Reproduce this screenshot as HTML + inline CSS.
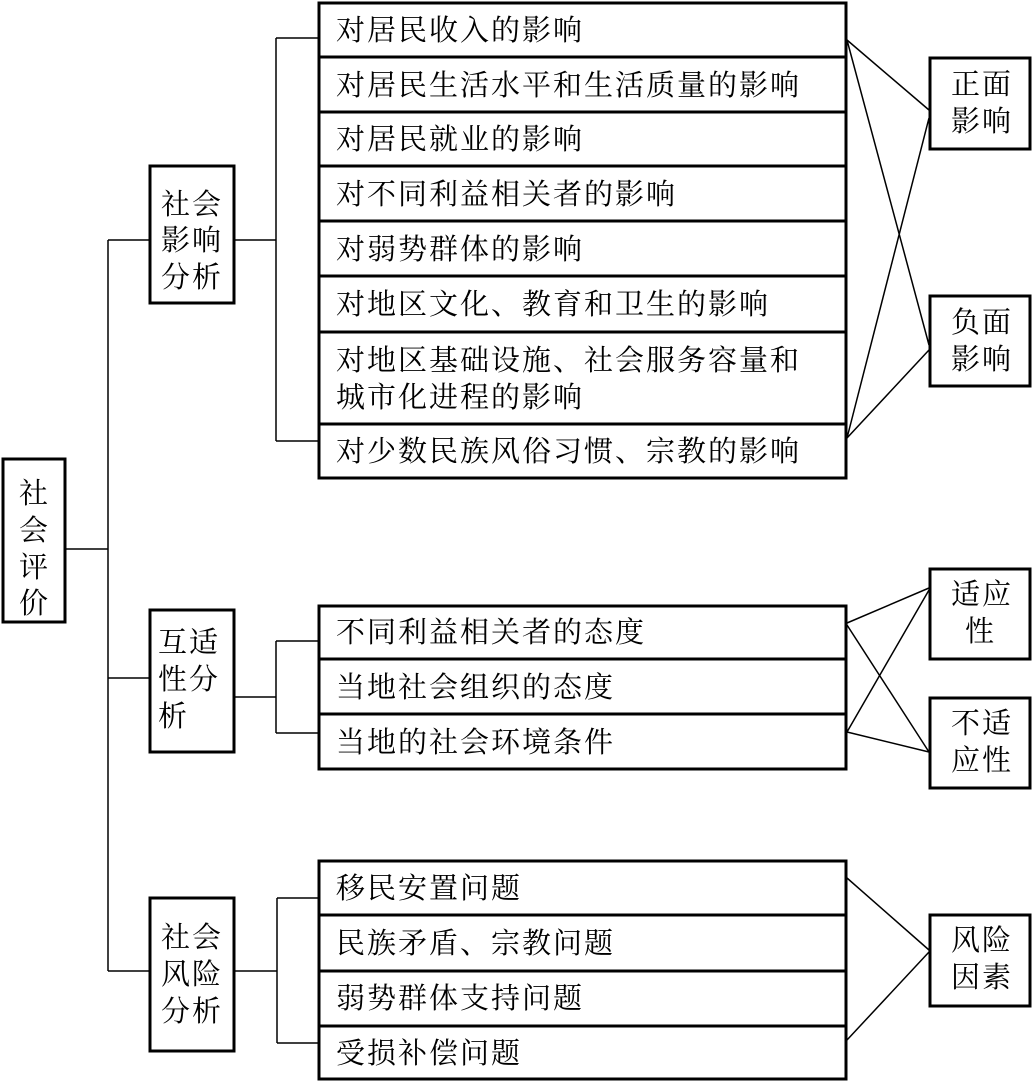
<!DOCTYPE html>
<html><head><meta charset="utf-8"><style>
html,body{margin:0;padding:0;background:#fff;}
svg{display:block;}
text{font-family:"Liberation Serif","Noto Serif CJK SC","Noto Sans CJK SC",serif;font-size:29px;fill:#000;letter-spacing:2px;}
</style></head><body>
<svg width="1033" height="1082" viewBox="0 0 1033 1082" xmlns="http://www.w3.org/2000/svg">
<g fill="none" stroke="#000" stroke-width="1.5">
<!-- main tree -->
<line x1="66" y1="549" x2="108" y2="549"/>
<line x1="108" y1="240" x2="108" y2="971"/>
<line x1="108" y1="240" x2="149" y2="240"/>
<line x1="108" y1="678" x2="149" y2="678"/>
<line x1="108" y1="971" x2="149" y2="971"/>
<!-- top bracket -->
<line x1="235" y1="240" x2="276" y2="240"/>
<line x1="276" y1="38" x2="276" y2="441"/>
<line x1="276" y1="38" x2="318" y2="38"/>
<line x1="276" y1="441" x2="318" y2="441"/>
<!-- middle bracket -->
<line x1="235" y1="697" x2="276" y2="697"/>
<line x1="276" y1="641" x2="276" y2="733"/>
<line x1="276" y1="641" x2="318" y2="641"/>
<line x1="276" y1="733" x2="318" y2="733"/>
<!-- bottom bracket -->
<line x1="235" y1="971" x2="277" y2="971"/>
<line x1="277" y1="898" x2="277" y2="1043"/>
<line x1="277" y1="898" x2="318" y2="898"/>
<line x1="277" y1="1043" x2="318" y2="1043"/>
<!-- cross lines top -->
<line x1="847" y1="40" x2="929" y2="110"/>
<line x1="847" y1="40" x2="929" y2="345"/>
<line x1="847" y1="438" x2="929" y2="118"/>
<line x1="847" y1="438" x2="929" y2="350"/>
<!-- middle -->
<line x1="847" y1="623" x2="929" y2="588"/>
<line x1="847" y1="625" x2="929" y2="752"/>
<line x1="847" y1="732" x2="929" y2="590"/>
<line x1="847" y1="732" x2="929" y2="752"/>
<!-- bottom -->
<line x1="847" y1="878" x2="929" y2="950"/>
<line x1="847" y1="1040" x2="929" y2="952"/>
</g>
<g fill="#fff" stroke="#000" stroke-width="3">
<rect x="3" y="459" width="62" height="163"/>
<rect x="150" y="166" width="84" height="137"/>
<rect x="150" y="610" width="84" height="142"/>
<rect x="150" y="898" width="84" height="153"/>
<rect x="319" y="3" width="527" height="475"/>
<rect x="319" y="606" width="527" height="163"/>
<rect x="319" y="861" width="527" height="218"/>
<rect x="930" y="58" width="100" height="91"/>
<rect x="930" y="296" width="100" height="90"/>
<rect x="930" y="569" width="100" height="90"/>
<rect x="930" y="698" width="100" height="90"/>
<rect x="930" y="915" width="100" height="91"/>
</g>
<g stroke="#000" stroke-width="3">
<line x1="319" y1="57" x2="846" y2="57"/>
<line x1="319" y1="112" x2="846" y2="112"/>
<line x1="319" y1="166" x2="846" y2="166"/>
<line x1="319" y1="221" x2="846" y2="221"/>
<line x1="319" y1="276" x2="846" y2="276"/>
<line x1="319" y1="332" x2="846" y2="332"/>
<line x1="319" y1="424" x2="846" y2="424"/>
<line x1="319" y1="659" x2="846" y2="659"/>
<line x1="319" y1="714" x2="846" y2="714"/>
<line x1="319" y1="915" x2="846" y2="915"/>
<line x1="319" y1="971" x2="846" y2="971"/>
<line x1="319" y1="1026" x2="846" y2="1026"/>
</g>
<!-- list text -->
<g>
<text x="336" y="40">对居民收入的影响</text>
<text x="336" y="95">对居民生活水平和生活质量的影响</text>
<text x="336" y="149">对居民就业的影响</text>
<text x="336" y="204">对不同利益相关者的影响</text>
<text x="336" y="259">对弱势群体的影响</text>
<text x="336" y="314">对地区文化、教育和卫生的影响</text>
<text x="336" y="370">对地区基础设施、社会服务容量和</text>
<text x="336" y="407">城市化进程的影响</text>
<text x="336" y="461">对少数民族风俗习惯、宗教的影响</text>
<text x="336" y="642">不同利益相关者的态度</text>
<text x="336" y="697">当地社会组织的态度</text>
<text x="336" y="752">当地的社会环境条件</text>
<text x="336" y="898">移民安置问题</text>
<text x="336" y="953">民族矛盾、宗教问题</text>
<text x="336" y="1008">弱势群体支持问题</text>
<text x="336" y="1063">受损补偿问题</text>
</g>
<!-- left boxes -->
<g>
<text x="19" y="503">社</text>
<text x="19" y="540">会</text>
<text x="19" y="577">评</text>
<text x="19" y="613">价</text>
<text x="161" y="214">社会</text>
<text x="161" y="250">影响</text>
<text x="161" y="287">分析</text>
<text x="158" y="652">互适</text>
<text x="158" y="689">性分</text>
<text x="158" y="726">析</text>
<text x="161" y="947">社会</text>
<text x="161" y="984">风险</text>
<text x="161" y="1021">分析</text>
</g>
<!-- right boxes -->
<g>
<text x="951" y="94">正面</text>
<text x="951" y="131">影响</text>
<text x="951" y="332">负面</text>
<text x="951" y="369">影响</text>
<text x="951" y="604">适应</text>
<text x="965" y="641">性</text>
<text x="951" y="733">不适</text>
<text x="951" y="770">应性</text>
<text x="951" y="950">风险</text>
<text x="951" y="987">因素</text>
</g>
</svg>
</body></html>
